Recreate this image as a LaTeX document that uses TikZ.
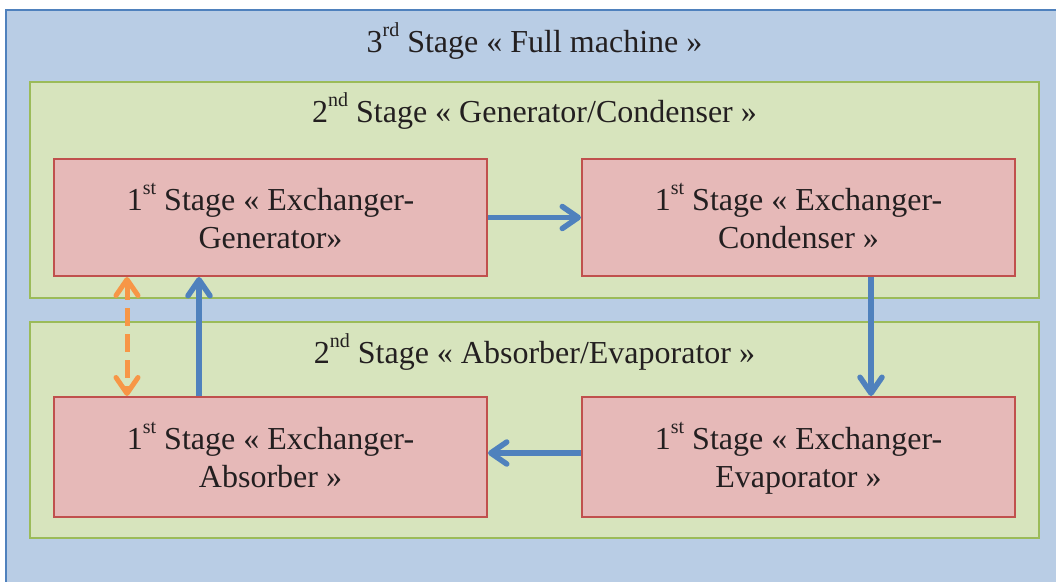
\documentclass[tikz,border=0pt]{standalone}
\usepackage{fontspec}
\setmainfont{Liberation Serif}
\usetikzlibrary{arrows.meta}

\definecolor{outerfill}{HTML}{B9CDE5}
\definecolor{outerline}{HTML}{4F81BD}
\definecolor{groupfill}{HTML}{D7E4BD}
\definecolor{groupline}{HTML}{9BBB59}
\definecolor{unitfill}{HTML}{E6B9B8}
\definecolor{unitline}{HTML}{C0504D}
\definecolor{flowblue}{HTML}{4F81BD}
\definecolor{linkorange}{HTML}{F79646}
\definecolor{inkcol}{HTML}{231F20}

% ordinal suffix raised above the baseline
\newcommand\ordsup[1]{\raisebox{0.5em}{\fontsize{20}{20}\selectfont #1}}

\tikzset{
  group/.style={draw=groupline, fill=groupfill, line width=2pt, inner sep=0pt,
    minimum width=1009pt, minimum height=216pt},
  unit/.style={draw=unitline, fill=unitfill, line width=2pt, inner sep=0pt,
    minimum width=433pt},
  lbl/.style={text=inkcol, font=\fontsize{32}{38}\selectfont, align=center, inner sep=0pt},
  barb/.tip={Straight Barb[length=16pt,width=22pt,line cap=round,line join=round]},
  flow/.style={draw=flowblue, line width=5.5pt, -barb},
  link/.style={draw=linkorange, line width=5pt, dash pattern=on 18pt off 8pt, barb-barb}
}

\begin{document}
\begin{tikzpicture}[x=1pt,y=-1pt]
  \useasboundingbox (0,0) rectangle (1056,581);
  \clip (0,0) rectangle (1056,581);

  % full machine
  \draw[draw=outerline, fill=outerfill, line width=2pt] (6,10) rectangle (1075,600);
  \node[lbl, anchor=base] (machine) at (534.5,52) {3\ordsup{rd} Stage « Full machine »};

  % two sub-assemblies
  \node[group] (gc) at (534.5,190) {};
  \node[group] (ae) at (534.5,430) {};
  \node[lbl, anchor=base] (gctitle) at (534.5,122.7) {2\ordsup{nd} Stage « Generator/Condenser »};
  \node[lbl, anchor=base] (aetitle) at (534.5,363) {2\ordsup{nd} Stage « Absorber/Evaporator »};

  % exchangers
  \node[unit, minimum height=117pt] (gen) at (270.5,217.5) {};
  \node[unit, minimum height=117pt] (con) at (798.5,217.5) {};
  \node[unit, minimum height=120pt] (abs) at (270.5,457) {};
  \node[unit, minimum height=120pt] (eva) at (798.5,457) {};

  % labels, placed by the baseline of their last line
  \node[lbl, anchor=base] (gent) at (270.5,248) {1\ordsup{st} Stage « Exchanger-\\Generator»};
  \node[lbl, anchor=base] (cont) at (798.5,248) {1\ordsup{st} Stage « Exchanger-\\Condenser »};
  \node[lbl, anchor=base] (abst) at (270.5,487.5) {1\ordsup{st} Stage « Exchanger-\\Absorber »};
  \node[lbl, anchor=base] (evat) at (798.5,487.5) {1\ordsup{st} Stage « Exchanger-\\Evaporator »};

  % flow between the exchangers
  \draw[flow] (gen.east) -- (con.west);
  \draw[flow] ([xshift=72.5pt]con.south) -- ([xshift=72.5pt]eva.north);
  \draw[flow] ([yshift=4pt]eva.west) -- ([yshift=4pt]abs.east);
  \draw[flow] ([xshift=-71.5pt]abs.north) -- ([xshift=-71.5pt]gen.south);
  \draw[link] ([xshift=-143.5pt]gen.south) -- ([xshift=-143.5pt]abs.north);
\end{tikzpicture}
\end{document}
